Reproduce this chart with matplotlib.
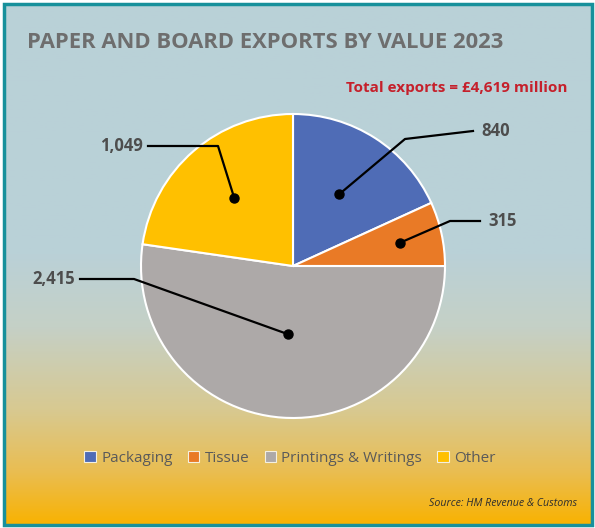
import numpy as np
import matplotlib.pyplot as plt
from matplotlib.colors import LinearSegmentedColormap
from matplotlib.patches import Patch, Rectangle

categories = ['Packaging', 'Tissue', 'Printings & Writings', 'Other']
values = [840, 315, 2415, 1049]
value_labels = ['840', '315', '2,415', '1,049']
colors = ['#4F6CB6', '#E97A26', '#ADA9A8', '#FFC000']

W, H = 595, 528
fig = plt.figure(figsize=(W / 100, H / 100), dpi=100)


def pixel_axes(z):
    ax = fig.add_axes([0, 0, 1, 1], zorder=z)
    ax.set_xlim(0, W)
    ax.set_ylim(H, 0)
    ax.axis('off')
    ax.patch.set_alpha(0)
    return ax


# background panel in pixel coordinates (y down)
bg = pixel_axes(0)
grad = LinearSegmentedColormap.from_list('bg', [
    (0.0, '#B9D1D8'), (0.48, '#BAD1D7'), (0.62, '#C5D0C6'),
    (0.78, '#D8C990'), (0.9, '#EABD50'), (1.0, '#F9B200')])
bg.imshow(np.linspace(0, 1, 256)[:, None], cmap=grad, aspect='auto',
          extent=(4, W - 2, H - 2, 4), zorder=0)
bg.add_patch(Rectangle((4, 4), W - 7, H - 7, fill=False,
                       edgecolor='#17909B', linewidth=2.5, zorder=5))

bg.text(27, 42, 'PAPER AND BOARD EXPORTS BY VALUE 2023', fontsize=15.8,
        fontweight='bold', color='#6E6E6E', va='center', ha='left',
        family='Open Sans')
bg.text(567, 88, 'Total exports = £{:,} million'.format(sum(values)),
        fontsize=11, fontweight='bold', color='#C5202B', va='center',
        ha='right', family='Open Sans')
bg.text(577, 503, 'Source: HM Revenue & Customs', fontsize=7.7,
        style='italic', color='#2E2E2E', va='center', ha='right',
        family='Open Sans')

# pie: centre (293, 266), radius 152 px
cx, cy, r = 293, 266, 152
pax = fig.add_axes([(cx - r) / W, (H - cy - r) / H, 2 * r / W, 2 * r / H],
                   zorder=1)
wedges, _ = pax.pie(values, colors=colors, startangle=90, counterclock=False,
                    wedgeprops=dict(edgecolor='white', linewidth=1.5))
pax.set_xlim(-1, 1)
pax.set_ylim(-1, 1)
pax.set_aspect('auto')

# leader lines on top: dot inside the wedge, elbow, then out to the label
top = pixel_axes(2)
dot_frac = [0.56, 0.72, 0.45, 0.59]
elbows = [(405, 139), (450, 221), (134, 279), (218, 146)]
line_ends = [(473, 131), (480, 221), (80, 279), (148, 146)]
for w, f, (ex, ey), (lx, ly), lab in zip(wedges, dot_frac, elbows,
                                          line_ends, value_labels):
    mid = np.deg2rad((w.theta1 + w.theta2) / 2)
    dx = cx + np.cos(mid) * f * r
    dy = cy - np.sin(mid) * f * r
    top.plot([dx, ex, lx], [dy, ey, ly], color='black', lw=1.6)
    top.plot(dx, dy, 'o', color='black', ms=6.5)
    right = lx > cx
    top.text(lx + (8 if right else -5), ly, lab, fontsize=12,
             fontweight='bold', color='#4D4D4D', va='center',
             ha='left' if right else 'right', family='Open Sans')

handles = [Patch(facecolor=c, edgecolor='#F4F0E0', linewidth=0.8)
           for c in colors]
top.legend(handles, categories, loc='center', bbox_to_anchor=(290, 458),
           bbox_transform=top.transData, ncol=4, frameon=False,
           prop=dict(family='Open Sans', size=11), labelcolor='#5A5A5A',
           handlelength=0.75, handleheight=0.75, handletextpad=0.35,
           columnspacing=1.0)

fig.savefig('out.png', dpi=100)
